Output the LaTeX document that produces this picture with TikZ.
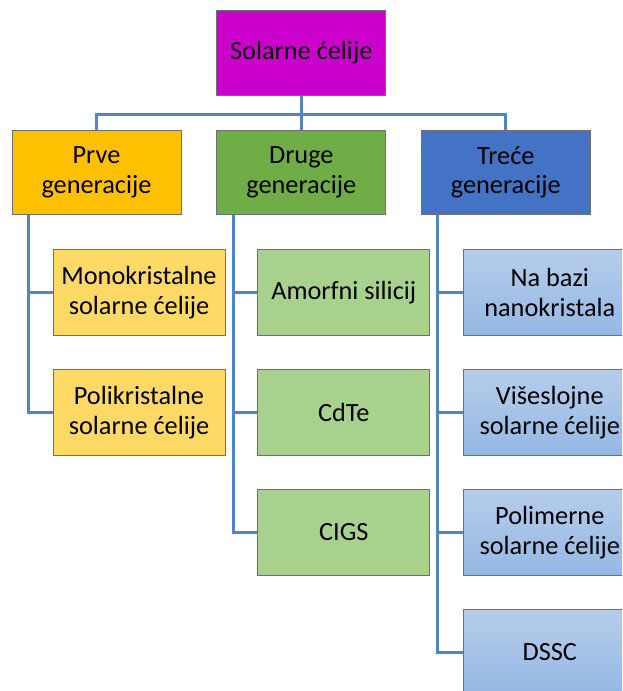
\documentclass[tikz,border=0pt]{standalone}
\usepackage{fontspec}
\setmainfont{Carlito}
\usepackage{tikz}

\definecolor{rootfill}{HTML}{CC00CC}
\definecolor{prvefill}{HTML}{FFC000}
\definecolor{drugefill}{HTML}{70AD47}
\definecolor{trecefill}{HTML}{4472C4}
\definecolor{prvelight}{HTML}{FFD966}
\definecolor{drugelight}{HTML}{A9D18E}
\definecolor{trecetop}{HTML}{B6CDEB}
\definecolor{trecebottom}{HTML}{94B8E3}
\definecolor{linkblue}{HTML}{4F86C3}
\definecolor{edgegray}{HTML}{707070}

\begin{document}
\begin{tikzpicture}[x=1pt,y=-1pt,node distance=120pt,
                    box/.style={rectangle,draw=edgegray,line width=1pt,align=center,inner sep=2pt,
                      font=\fontsize{26.3}{29.5}\selectfont,minimum width=169pt,minimum height=84pt},
                    sub/.style={box,minimum width=172pt,minimum height=86pt},
                    blue sub/.style={sub,top color=trecetop,bottom color=trecebottom},
                    link/.style={draw=linkblue,line width=3pt}]
  \useasboundingbox (0,0) rectangle (622,691);
  \clip (0,0) rectangle (622,691);

  \node[box,fill=rootfill,minimum height=85pt] (root) at (301.3,52.5) {Solarne ćelije};
  \node[box,fill=drugefill] (druge) [below of=root] {Druge\\generacije};
  \node[box,fill=prvefill] (prve) [left of=druge,node distance=204.8pt] {Prve\\generacije};
  \node[box,fill=trecefill] (trece) [right of=druge,node distance=204.5pt] {Treće\\generacije};

  \node[sub,fill=prvelight] (mono) [below of=prve,xshift=42.5pt] {Monokristalne\\solarne ćelije};
  \node[sub,fill=prvelight] (poli) [below of=mono] {Polikristalne\\solarne ćelije};

  \node[sub,fill=drugelight] (amorfni) [below of=druge,xshift=42.5pt] {Amorfni silicij};
  \node[sub,fill=drugelight] (cdte) [below of=amorfni] {CdTe};
  \node[sub,fill=drugelight] (cigs) [below of=cdte] {CIGS};

  \node[blue sub] (nano) [below of=trece,xshift=44pt] {Na bazi\\nanokristala};
  \node[blue sub] (visesl) [below of=nano] {Višeslojne\\solarne ćelije};
  \node[blue sub] (polim) [below of=visesl] {Polimerne\\solarne ćelije};
  \node[blue sub] (dssc) [below of=polim] {DSSC};

  \coordinate (bus) at ([yshift=-19pt]root.south);
  \draw[link] (root) -- (druge);
  \draw[link] (bus) -| (prve.north);
  \draw[link] (bus) -| (trece.north);

  \draw[link] ([xshift=17pt]prve.south west) |- (mono.west);
  \draw[link] ([xshift=17pt]prve.south west) |- (poli.west);
  \draw[link] ([xshift=17pt]druge.south west) |- (amorfni.west);
  \draw[link] ([xshift=17pt]druge.south west) |- (cdte.west);
  \draw[link] ([xshift=17pt]druge.south west) |- (cigs.west);
  \draw[link] ([xshift=17pt]trece.south west) |- (nano.west);
  \draw[link] ([xshift=17pt]trece.south west) |- (visesl.west);
  \draw[link] ([xshift=17pt]trece.south west) |- (polim.west);
  \draw[link] ([xshift=17pt]trece.south west) |- (dssc.west);
\end{tikzpicture}
\end{document}
